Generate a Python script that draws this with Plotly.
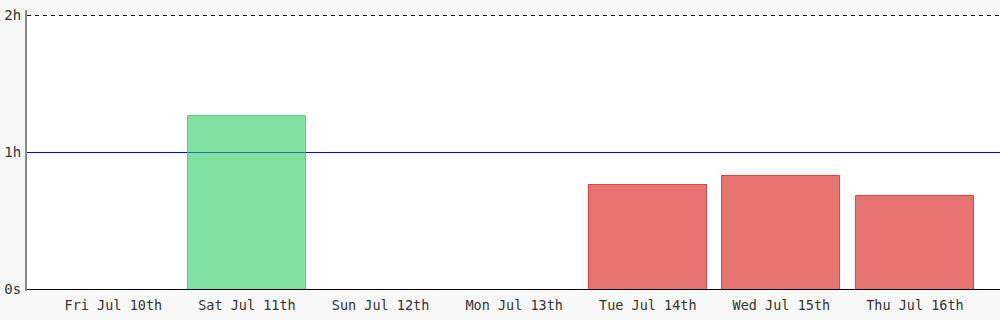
import plotly.graph_objects as go

days = ["Fri Jul 10th", "Sat Jul 11th", "Sun Jul 12th", "Mon Jul 13th",
        "Tue Jul 14th", "Wed Jul 15th", "Thu Jul 16th"]
hours = [0, 1.263, 0, 0, 0.766, 0.832, 0.679]
goal_hours = 1.0
max_hours = 2.0
y_tick_secs = [0, 3600, 7200]
y_tick_text = ["0s", "1h", "2h"]

secs = [h * 3600 for h in hours]
goal = goal_hours * 3600
top = max_hours * 3600

fill = ["rgba(46,204,96,0.6)" if h >= goal_hours else "rgba(220,40,40,0.65)" for h in hours]
edge = ["rgba(46,204,96,0.75)" if h >= goal_hours else "rgba(220,40,40,0.8)" for h in hours]
edge_w = [1 if h > 0 else 0 for h in hours]
xs = list(range(len(days)))

fig = go.Figure()
fig.add_trace(go.Bar(
    x=xs, y=secs, width=0.883,
    marker=dict(color=fill, line=dict(color=edge, width=edge_w)),
    hoverinfo="skip",
))

fig.add_shape(type="line", xref="paper", x0=0, x1=1, yref="y", y0=goal, y1=goal,
              line=dict(color="#0000ff", width=1), layer="below")
fig.add_shape(type="line", xref="paper", x0=0, x1=1, yref="y", y0=top, y1=top,
              line=dict(color="#000000", width=1, dash="4px,4px"), layer="below")
fig.add_shape(type="line", xref="paper", x0=0, x1=1, yref="y", y0=0, y1=0,
              line=dict(color="#000000", width=1), layer="above")

fig.update_layout(
    width=1000, height=320,
    margin=dict(l=27, r=0, t=10, b=29),
    paper_bgcolor="#f8f8f8", plot_bgcolor="#ffffff",
    showlegend=False,
    font=dict(family="DejaVu Sans Mono", size=13, color="#333333"),
    bargap=0,
)
fig.update_xaxes(
    range=[-0.6465, 6.6365], tickmode="array", tickvals=xs, ticktext=days,
    showgrid=False, zeroline=False, showline=False, ticks="",
    ticklabelstandoff=4,
    tickfont=dict(size=13.5, color="#333333"), fixedrange=True,
)
fig.update_yaxes(
    range=[-39.4, 7344.2], tickmode="array", tickvals=y_tick_secs, ticktext=y_tick_text,
    showgrid=False, zeroline=False, showline=True, linecolor="#888888", linewidth=2,
    ticks="", ticklabelstandoff=1, tickfont=dict(size=14, color="#333333"), fixedrange=True,
)

fig.write_html("out.html", config={"displayModeBar": False})
